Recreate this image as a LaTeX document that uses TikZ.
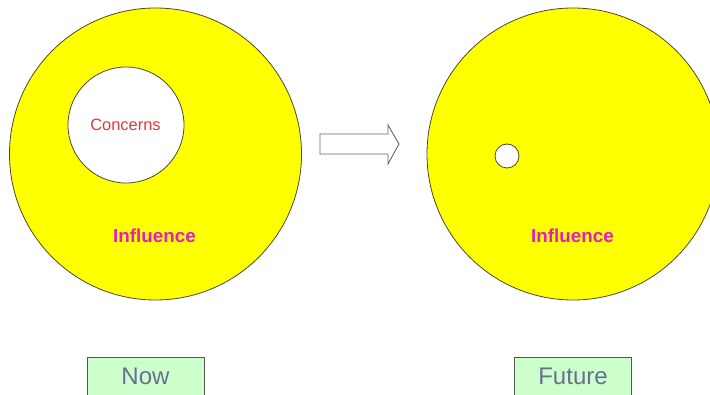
\documentclass[tikz,border=0pt]{standalone}
\usepackage{fontspec}
\setmainfont{Liberation Sans}
\definecolor{ringfill}{RGB}{255,255,0}
\definecolor{ringline}{HTML}{4A4A30}
\definecolor{infl}{HTML}{E41EC0}
\definecolor{conc}{HTML}{E03A3A}
\definecolor{boxfill}{HTML}{CCFFCC}
\definecolor{boxline}{HTML}{505A50}
\definecolor{boxtext}{HTML}{687092}
\definecolor{arrowline}{HTML}{666666}
\tikzset{
  ring/.style={circle, draw=ringline, line width=0.8pt, fill=ringfill, inner sep=0pt, minimum size=292pt},
  hole/.style={circle, draw=ringline, line width=0.8pt, fill=white, inner sep=0pt},
  infltext/.style={text=infl, font=\fontsize{18.8}{22}\selectfont\bfseries, inner sep=0pt},
  conctext/.style={text=conc, font=\fontsize{16.4}{19}\selectfont, inner sep=0pt},
  labelbox/.style={draw=boxline, fill=boxfill, line width=0.8pt, minimum width=117pt, minimum height=44pt, inner sep=0pt, anchor=north west},
  labeltext/.style={text=boxtext, font=\fontsize{24}{28}\selectfont, inner sep=0pt}
}
\begin{document}
\begin{tikzpicture}[x=1pt,y=-1pt]
\useasboundingbox (0,0) rectangle (710,395);
\clip (0,0) rectangle (710,395);
\fill[white] (0,0) rectangle (710,395);
% left
\node[ring] (outerL) at (155.5,154) {};
\node[hole, minimum size=116pt] (innerL) at (126,125) {};
\node[conctext] (concL) at (125.5,125) {Concerns};
\node[infltext] (inflL) at (154.5,235.5) {Influence};
% arrow
\draw[draw=arrowline, fill=white, line width=0.9pt, line join=miter]
  (320,134) -- (388,134) -- (388,125) -- (399,144) -- (388,164) -- (388,154) -- (320,154) -- cycle;
% right
\node[ring] (outerR) at (573,154) {};
\node[hole, minimum size=24pt] (innerR) at (507,156) {};
\node[infltext] (inflR) at (572.5,235.5) {Influence};
% boxes
\node[labelbox] (nowbox) at (87,357) {};
\node[labeltext] (nowtxt) at (145.5,376) {Now};
\node[labelbox] (futbox) at (514,357) {};
\node[labeltext] (futtxt) at (573,376) {Future};
\end{tikzpicture}
\end{document}
